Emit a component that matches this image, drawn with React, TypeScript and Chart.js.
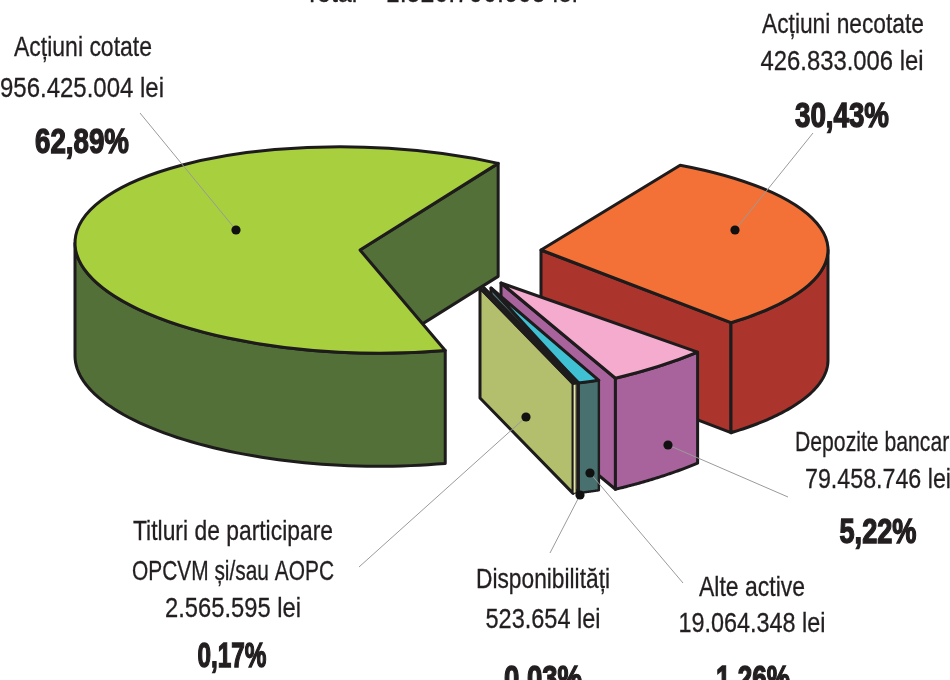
import React, { useEffect, useRef } from "react";
import { Chart, registerables } from "chart.js";

Chart.register(...registerables);

// Clockwise from the back edge of the red slice
const categories = ["Acțiuni necotate", "Depozite bancare", "Alte active", "Disponibilități", "Titluri de participare", "Acțiuni cotate"];
const shares = [30.43, 5.22, 1.26, 0.03, 0.17, 62.89];
const topColors = ["#F37036", "#F4ABCE", "#3FC1D3", "#C9D58C", "#1E1B1C", "#A8CF3E"];
const wallColors = ["#AB352D", "#A9639C", "#47706E", "#D9DE95", "#B4BF6E", "#527038"];
const rimColors = ["#AB352D", "#A9639C", "#47706E", "#1E1B1C", "#E4E6A6", "#527038"];

const BASE_R = 294;
// Each slice is pulled out and foreshortened on its own
const apexX = [541, 501, 491, 484, 480, 360];
const apexY = [250, 283, 288, 288, 288, 250];
const radiusX = [287, 297, 280, 305, 311, 285];
const radiusY = [97, 113, 100, 100, 100, 103];
const tilt = [0, -0.079, 0, 0, 0, 0.025];
const wallDepth = [110, 111, 110, 110, 110, 113];
const rimLine = [3, 3, 2.4, 1.2, 1.2, 3];

type Label = { text: string; cx: number; y: number; w: number; bold?: boolean };
const labels: Label[] = [
  { text: "Total = 1.520.790.605 lei", cx: 441, y: 2, w: 273 },
  { text: "Acțiuni cotate", cx: 83, y: 56, w: 138 },
  { text: "956.425.004 lei", cx: 82, y: 97, w: 164 },
  { text: "62,89%", cx: 82, y: 153, w: 94, bold: true },
  { text: "Acțiuni necotate", cx: 843, y: 33, w: 162 },
  { text: "426.833.006 lei", cx: 842, y: 70, w: 163 },
  { text: "30,43%", cx: 842, y: 127, w: 94, bold: true },
  { text: "Depozite bancare", cx: 878, y: 451, w: 166 },
  { text: "79.458.746 lei", cx: 878, y: 488, w: 146 },
  { text: "5,22%", cx: 878, y: 543, w: 77, bold: true },
  { text: "Titluri de participare", cx: 233, y: 540, w: 200 },
  { text: "OPCVM și/sau AOPC", cx: 233, y: 580, w: 202 },
  { text: "2.565.595 lei", cx: 233, y: 617, w: 136 },
  { text: "0,17%", cx: 232, y: 667, w: 69, bold: true },
  { text: "Disponibilități", cx: 543, y: 588, w: 134 },
  { text: "523.654 lei", cx: 543, y: 628, w: 115 },
  { text: "0,03%", cx: 543, y: 690, w: 78, bold: true },
  { text: "Alte active", cx: 752, y: 596, w: 106 },
  { text: "19.064.348 lei", cx: 752, y: 632, w: 147 },
  { text: "1,26%", cx: 753, y: 690, w: 74, bold: true },
];

// Leader: dot on the slice, then where the line ends
const leaders = [
  [236, 230, 140, 113],
  [735, 230, 813, 133],
  [668, 445, 788, 497],
  [590, 473, 683, 583],
  [580, 495, 550, 553],
  [526, 417, 359, 567],
];

const INK = "#231F20";

const pie3d = {
  id: "pie3d",
  beforeDatasetDraw(chart: any, args: any) {
    const ctx: CanvasRenderingContext2D = chart.ctx;
    const arcs = args.meta.data;
    arcs.forEach((arc: any, i: number) => {
      const { x: cx, y: cy, startAngle: a0, endAngle: a1 } = arc;
      const ax = apexX[i], ay = apexY[i], sx = radiusX[i], sy = radiusY[i], b = tilt[i], depth = wallDepth[i];
      const P = (t: number, dy = 0): [number, number] => [
        ax + sx * Math.cos(t),
        ay + sy * Math.sin(t) + b * sx * Math.cos(t) + dy,
      ];

      ctx.save();
      ctx.strokeStyle = "#1E1B1C";
      ctx.lineWidth = 3;
      ctx.lineJoin = "round";
      ctx.fillStyle = wallColors[i];

      const closeWall = () => {
        ctx.closePath();
        ctx.fill();
        ctx.stroke();
      };
      // radial wall of the clockwise end, when it faces the viewer
      if (Math.cos(a1) > 0) {
        const [ex, ey] = P(a1);
        ctx.beginPath();
        ctx.moveTo(ax, ay);
        ctx.lineTo(ex, ey);
        ctx.lineTo(ex, ey + depth);
        ctx.lineTo(ax, ay + depth);
        closeWall();
      }
      // outer rim wall, only where it turns to the viewer
      const lo = Math.max(a0, 0), hi = Math.min(a1, Math.PI);
      if (hi > lo) {
        const n = 60;
        ctx.fillStyle = rimColors[i];
        ctx.lineWidth = rimLine[i];
        ctx.beginPath();
        for (let k = 0; k <= n; k++) {
          const [px, py] = P(lo + ((hi - lo) * k) / n);
          k ? ctx.lineTo(px, py) : ctx.moveTo(px, py);
        }
        for (let k = n; k >= 0; k--) {
          const [px, py] = P(lo + ((hi - lo) * k) / n, depth);
          ctx.lineTo(px, py);
        }
        closeWall();
        ctx.lineWidth = 3;
      }

      // top face: the library's own arc, under the projection
      const a = sx / BASE_R, d = sy / BASE_R, sk = (b * sx) / BASE_R;
      const project = () => ctx.transform(a, sk, 0, d, ax - a * cx, ay - sk * cx - d * cy);
      ctx.save();
      project();
      arc.draw(ctx);
      ctx.restore();

      // outline in screen space, so that its width stays even
      ctx.save();
      project();
      ctx.beginPath();
      ctx.moveTo(cx, cy);
      ctx.arc(cx, cy, BASE_R, a0, a1);
      ctx.closePath();
      ctx.restore();
      ctx.stroke();
      ctx.restore();
    });
    return false;
  },
  afterDraw(chart: any) {
    const ctx: CanvasRenderingContext2D = chart.ctx;
    ctx.save();
    ctx.strokeStyle = "#9A9A9A";
    ctx.lineWidth = 1;
    leaders.forEach(([x0, y0, x1, y1]) => {
      ctx.beginPath();
      ctx.moveTo(x0, y0);
      ctx.lineTo(x1, y1);
      ctx.stroke();
    });
    ctx.fillStyle = "#111";
    leaders.forEach(([x0, y0]) => {
      ctx.beginPath();
      ctx.arc(x0, y0, 4.6, 0, Math.PI * 2);
      ctx.fill();
    });
    ctx.restore();

    labels.forEach((l) => {
      ctx.save();
      ctx.font = l.bold ? "bold 35px 'Liberation Sans Narrow', 'Liberation Sans'" : "28px 'Liberation Sans Narrow', 'Liberation Sans'";
      ctx.fillStyle = INK;
      ctx.strokeStyle = INK;
      ctx.textAlign = "center";
      ctx.textBaseline = "alphabetic";
      const m = ctx.measureText(l.text).width;
      ctx.translate(l.cx, l.y);
      ctx.scale(l.w / m, 1);
      ctx.fillText(l.text, 0, 0);
      ctx.lineWidth = l.bold ? 1.4 : 0.3;
      ctx.strokeText(l.text, 0, 0);
      ctx.restore();
    });
  },
};

export default function App() {
  const ref = useRef<HTMLCanvasElement>(null);
  useEffect(() => {
    const chart = new Chart(ref.current!, {
      type: "pie",
      data: {
        labels: categories,
        datasets: [
          {
            data: shares,
            backgroundColor: topColors,
            borderWidth: 0,
          },
        ],
      },
      options: {
        responsive: false,
        animation: false,
        rotation: 29,
        radius: BASE_R,
        layout: { padding: 0 },
        events: [],
        plugins: { legend: { display: false }, tooltip: { enabled: false }, title: { display: false } },
      } as any,
      plugins: [pie3d],
    } as any);
    return () => chart.destroy();
  }, []);
  return (
    <div style={{ position: "absolute", left: 0, top: 0, width: 950, height: 680, background: "#fff", overflow: "hidden" }}>
      <canvas ref={ref} width={950} height={680} style={{ display: "block" }} />
    </div>
  );
}
